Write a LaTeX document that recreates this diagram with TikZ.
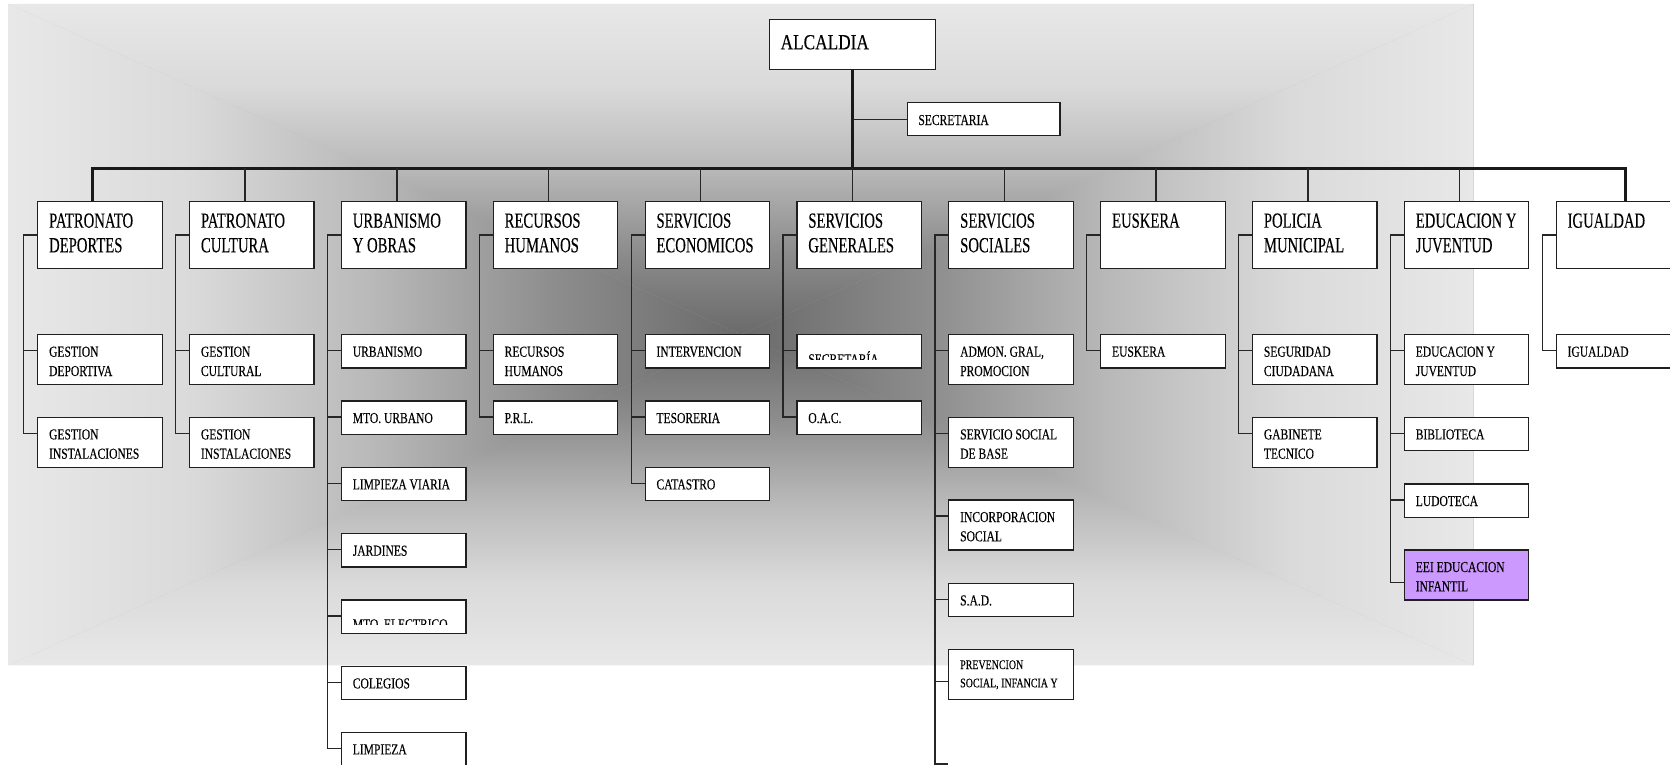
\documentclass[tikz,border=0pt]{standalone}
\usepackage{fontspec}
\setmainfont{Liberation Serif}
\newfontfamily\hdf[FakeStretch=0.68,FakeBold=0.15]{Liberation Serif}
\newfontfamily\sbf[FakeStretch=0.76,FakeBold=0.15]{Liberation Serif}
\newfontfamily\alf[FakeStretch=0.8,FakeBold=0.15]{Liberation Serif}
\newcommand{\HF}{\hdf\fontsize{21.6}{24.6}\selectfont}
\newcommand{\SF}{\sbf\fontsize{15.2}{19.3}\selectfont}
\newcommand{\AF}{\alf\fontsize{21.6}{24.6}\selectfont}
\newcommand{\PF}{\sbf\fontsize{13.1}{18.3}\selectfont}
\newcommand{\two}[2]{\vtop{\hbox{#1}\hbox{#2}}}
\definecolor{gc0}{HTML}{E8E8E8}
\definecolor{gc1}{HTML}{DADADA}
\definecolor{gc2}{HTML}{B8B8B8}
\definecolor{gc3}{HTML}{8C8C8C}
\definecolor{gc4}{HTML}{6A6A6A}
\definecolor{purp}{HTML}{CC99FF}
\pgfdeclareverticalshading{gtop}{100bp}{color(0bp)=(gc4); color(25bp)=(gc4); color(37.5bp)=(gc3); color(50bp)=(gc2); color(62.5bp)=(gc1); color(75bp)=(gc0); color(100bp)=(gc0)}
\pgfdeclareverticalshading{gbot}{100bp}{color(0bp)=(gc0); color(25bp)=(gc0); color(37.5bp)=(gc1); color(50bp)=(gc2); color(62.5bp)=(gc3); color(75bp)=(gc4); color(100bp)=(gc4)}
\pgfdeclarehorizontalshading{gleft}{100bp}{color(0bp)=(gc0); color(25bp)=(gc0); color(37.5bp)=(gc1); color(50bp)=(gc2); color(62.5bp)=(gc3); color(75bp)=(gc4); color(100bp)=(gc4)}
\pgfdeclarehorizontalshading{gright}{100bp}{color(0bp)=(gc4); color(25bp)=(gc4); color(37.5bp)=(gc3); color(50bp)=(gc2); color(62.5bp)=(gc1); color(75bp)=(gc0); color(100bp)=(gc0)}
\tikzset{
  bxs/.style={draw=black!88, line width=1.2pt, fill=white, anchor=north west, inner sep=0pt, minimum width=124.5pt},
  tx/.style={anchor=base west, inner sep=0pt, text=black},
  ln/.style={draw=black!85, line width=1.3pt},
  thk/.style={draw=black!90, line width=2.6pt},
}
\newcommand{\hd}[3]{%
  \node[bxs, minimum height=66.7pt] (#1) at (#2,201) {};
  \node[tx, font=\HF] (#1t) at ([shift={(11.8,26.7)}]#1.north west) {#3};}
\newcommand{\sbx}[5]{%
  \node[bxs, minimum height=#4pt] (#1) at (#2,#3) {};
  \node[tx, font=\SF] (#1t) at ([shift={(11.8,22.7)}]#1.north west) {#5};}
\newcommand{\stub}[2]{\draw[ln] ([shift={(0,#2)}]#1.north west) -- ++(-13.3,0);}
\begin{document}
\begin{tikzpicture}[x=1pt,y=-1pt]
\useasboundingbox (0,0) rectangle (1670,765);
\clip (0,0) rectangle (1670,765);
\fill[white] (0,0) rectangle (1670,765);
% background gradient
\fill[gc2] (8.6,4) rectangle (1473.6,665.3);
\shade[shading=gtop] (8.6,4) -- (1473.6,4) -- (741.1,334.6) -- cycle;
\shade[shading=gbot] (8.6,665.3) -- (1473.6,665.3) -- (741.1,334.6) -- cycle;
\shade[shading=gleft] (8.6,4) -- (8.6,665.3) -- (741.1,334.6) -- cycle;
\shade[shading=gright] (1473.6,4) -- (1473.6,665.3) -- (741.1,334.6) -- cycle;

% top
\node[bxs, minimum width=166.1pt, minimum height=49.7pt] (alc) at (768.9,19.3) {};
\node[tx, font=\AF] (alct) at ([shift={(11.5,30)}]alc.north west) {ALCALDIA};
\node[bxs, minimum width=152.2pt, minimum height=33pt] (sec) at (907.1,102.3) {};
\node[tx, font=\SF] (sect) at ([shift={(11.1,22.7)}]sec.north west) {SECRETARIA};

% headers
\hd{pdh}{37.1}{\two{PATRONATO}{DEPORTES}}
\hd{pch}{188.95}{\two{PATRONATO}{CULTURA}}
\hd{uoh}{340.8}{\two{URBANISMO}{Y OBRAS}}
\hd{rhh}{492.65}{\two{RECURSOS}{HUMANOS}}
\hd{seh}{644.5}{\two{SERVICIOS}{ECONOMICOS}}
\hd{sgh}{796.35}{\two{SERVICIOS}{GENERALES}}
\hd{ssh}{948.2}{\two{SERVICIOS}{SOCIALES}}
\hd{euh}{1100.05}{EUSKERA}
\hd{pmh}{1251.9}{\two{POLICIA}{MUNICIPAL}}
\hd{ejh}{1403.75}{\two{EDUCACION Y}{JUVENTUD}}
\hd{igh}{1555.6}{IGUALDAD}

% main connectors
\draw[thk] (alc.south) -- ++(0,99.3);
\draw[ln] (sec.west) -- (sec.west -| alc.south);
\draw[thk] ([xshift=-7.3pt]pdh.north) -- ++(0,-32.7) -| ([xshift=6.8pt]igh.north);
\foreach \n in {pch,uoh,rhh,seh,sgh,ssh,euh,pmh,ejh}
  \draw[ln] ([xshift=-6.8pt]\n.north) -- ++(0,-32.7);

% PATRONATO DEPORTES
\sbx{gd}{37.1}{334}{50}{\two{GESTION}{DEPORTIVA}}
\sbx{gi1}{37.1}{416.7}{50}{\two{GESTION}{INSTALACIONES}}
\draw[ln] (pdh.west) -- ++(-13.3,0) |- ([shift={(0,16.7)}]gi1.north west);
\stub{gd}{16.7}
% PATRONATO CULTURA
\sbx{gc}{188.95}{334}{50}{\two{GESTION}{CULTURAL}}
\sbx{gi2}{188.95}{416.7}{50}{\two{GESTION}{INSTALACIONES}}
\draw[ln] (pch.west) -- ++(-13.3,0) |- ([shift={(0,16.7)}]gi2.north west);
\stub{gc}{16.7}
% URBANISMO Y OBRAS
\sbx{urb}{340.8}{334}{33.3}{URBANISMO}
\sbx{mtu}{340.8}{400.3}{33.3}{MTO. URBANO}
\sbx{lv}{340.8}{466.7}{33.3}{LIMPIEZA VIARIA}
\sbx{jar}{340.8}{533}{33.3}{JARDINES}
\node[bxs, minimum height=33.3pt] (mte) at (340.8,599.3) {};
\begin{scope}
  \clip (mte.north west) rectangle ([shift={(0,25.2)}]mte.north east);
  \node[tx, font=\SF] (mtet) at ([shift={(11.8,30)}]mte.north west) {MTO. ELECTRICO};
\end{scope}
\sbx{col}{340.8}{665.7}{33.3}{COLEGIOS}
\sbx{lim}{340.8}{731.7}{33.3}{LIMPIEZA}
\draw[ln] (uoh.west) -- ++(-13.3,0) |- ([shift={(0,16.7)}]lim.north west);
\foreach \n in {urb,mtu,lv,jar,mte,col} \stub{\n}{16.7}
% RECURSOS HUMANOS
\sbx{rrh}{492.65}{334}{50}{\two{RECURSOS}{HUMANOS}}
\sbx{prl}{492.65}{400.3}{33.3}{P.R.L.}
\draw[ln] (rhh.west) -- ++(-13.3,0) |- ([shift={(0,16.7)}]prl.north west);
\stub{rrh}{16.7}
% SERVICIOS ECONOMICOS
\sbx{int}{644.5}{334}{33.3}{INTERVENCION}
\sbx{tes}{644.5}{400.3}{33.3}{TESORERIA}
\sbx{cat}{644.5}{466.7}{33.3}{CATASTRO}
\draw[ln] (seh.west) -- ++(-13.3,0) |- ([shift={(0,16.7)}]cat.north west);
\stub{int}{16.7}
\stub{tes}{16.7}
% SERVICIOS GENERALES
\node[bxs, minimum height=33.3pt] (sgs) at (796.35,334) {};
\begin{scope}
  \clip (sgs.north west) rectangle ([shift={(0,25.8)}]sgs.north east);
  \node[tx, font=\SF] (sgst) at ([shift={(11.8,30.3)}]sgs.north west) {SECRETARÍA};
\end{scope}
\sbx{oac}{796.35}{400.3}{33.3}{O.A.C.}
\draw[ln] (sgh.west) -- ++(-13.3,0) |- ([shift={(0,16.7)}]oac.north west);
\stub{sgs}{16.7}
% SERVICIOS SOCIALES
\sbx{adm}{948.2}{334}{50}{\two{ADMON. GRAL,}{PROMOCION}}
\sbx{ssb}{948.2}{416.7}{50}{\two{SERVICIO SOCIAL}{DE BASE}}
\sbx{inc}{948.2}{499.3}{50}{\two{INCORPORACION}{SOCIAL}}
\sbx{sad}{948.2}{582.7}{33.3}{S.A.D.}
\node[bxs, minimum height=50pt] (prev) at (948.2,648.7) {};
\node[tx, font=\PF] (prevt) at ([shift={(11.8,20.3)}]prev.north west) {\two{PREVENCION}{SOCIAL, INFANCIA Y}};
\coordinate (ssend) at (948.2,764);
\draw[ln] (ssh.west) -- ++(-13.3,0) |- (ssend);
\foreach \n in {adm,ssb,inc,sad} \stub{\n}{16.7}
\stub{prev}{33}
% EUSKERA
\sbx{eus}{1100.05}{334}{33.3}{EUSKERA}
\draw[ln] (euh.west) -- ++(-13.3,0) |- ([shift={(0,16.7)}]eus.north west);
% POLICIA MUNICIPAL
\sbx{seg}{1251.9}{334}{50}{\two{SEGURIDAD}{CIUDADANA}}
\sbx{gab}{1251.9}{416.7}{50}{\two{GABINETE}{TECNICO}}
\draw[ln] (pmh.west) -- ++(-13.3,0) |- ([shift={(0,16.7)}]gab.north west);
\stub{seg}{16.7}
% EDUCACION Y JUVENTUD
\sbx{edj}{1403.75}{334}{50}{\two{EDUCACION Y}{JUVENTUD}}
\sbx{bib}{1403.75}{416.7}{33.3}{BIBLIOTECA}
\sbx{lud}{1403.75}{483.3}{33.3}{LUDOTECA}
\node[bxs, fill=purp, minimum height=50pt] (eei) at (1403.75,549.3) {};
\node[tx, font=\SF] (eeit) at ([shift={(11.8,22.7)}]eei.north west) {\two{EEI EDUCACION}{INFANTIL}};
\draw[ln] (ejh.west) -- ++(-13.3,0) |- ([shift={(0,33.3)}]eei.north west);
\foreach \n in {edj,bib,lud} \stub{\n}{16.7}
% IGUALDAD
\sbx{igu}{1555.6}{334}{33.3}{IGUALDAD}
\draw[ln] (igh.west) -- ++(-13.3,0) |- ([shift={(0,16.7)}]igu.north west);
\end{tikzpicture}
\end{document}
